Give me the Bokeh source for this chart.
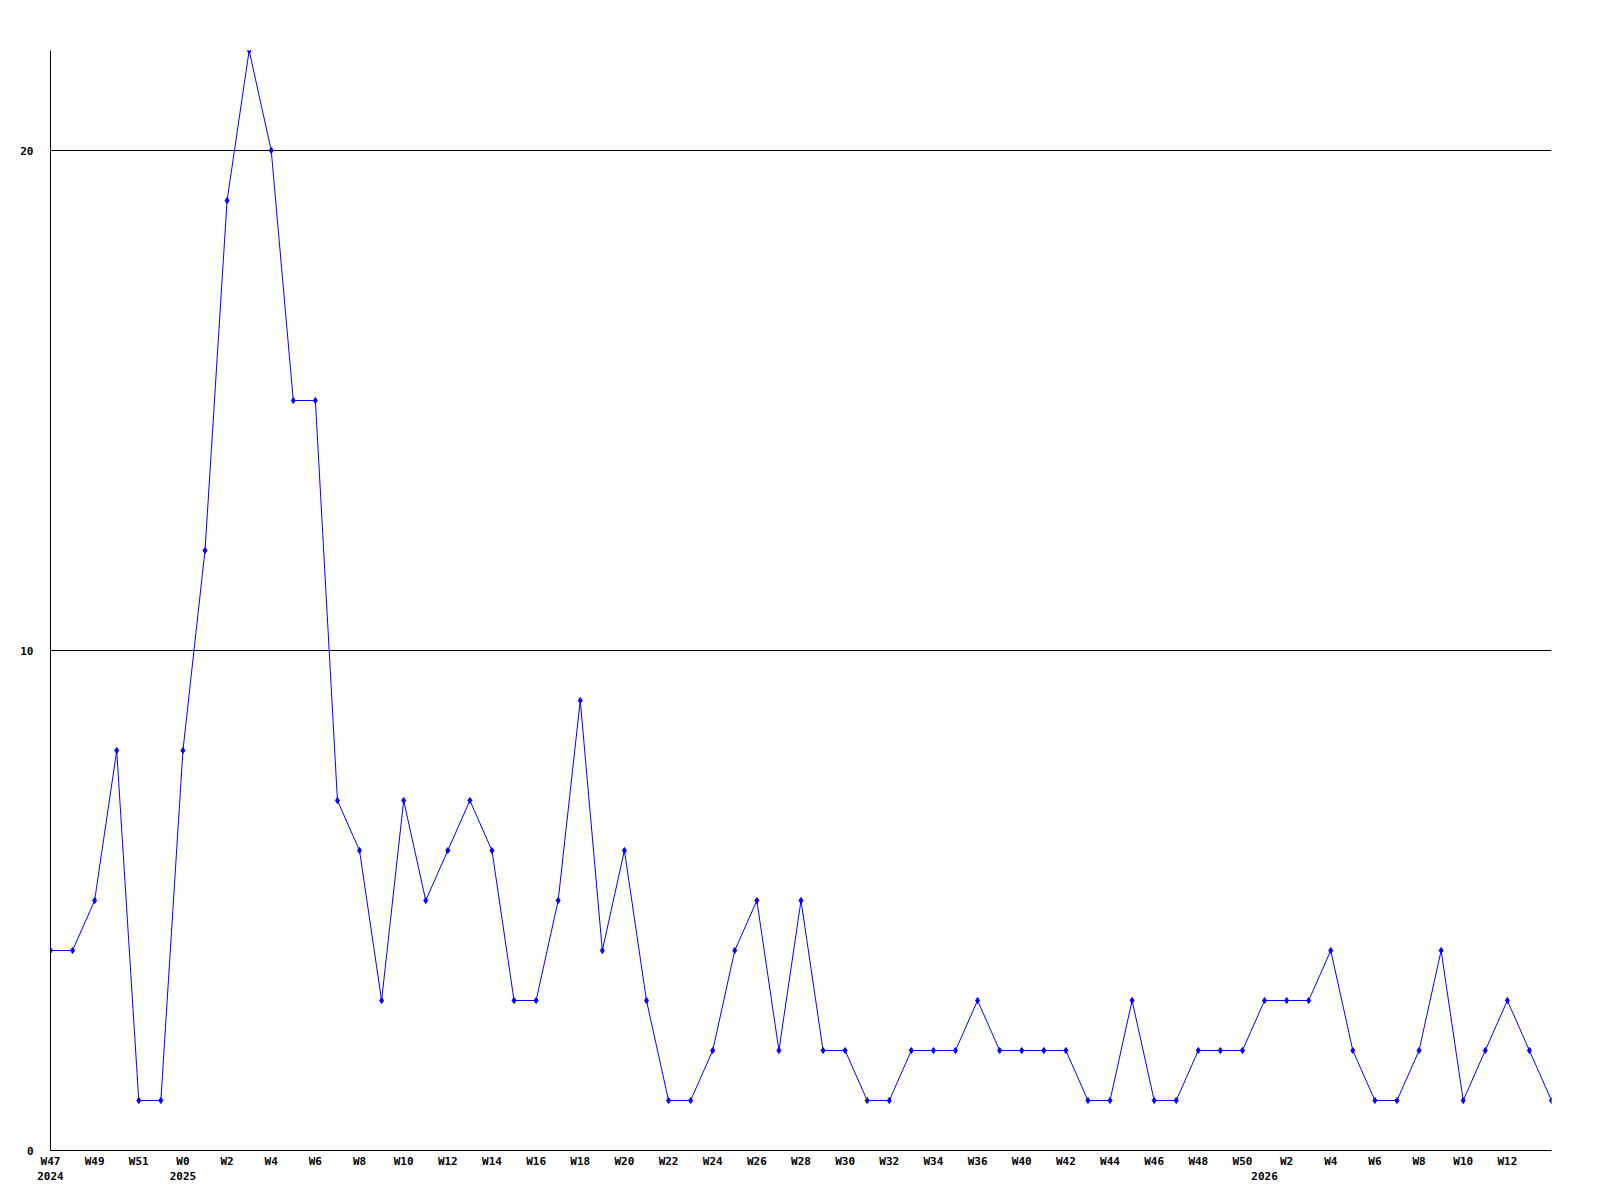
from bokeh.plotting import figure
from bokeh.models import FixedTicker, LinearAxis, Range1d
from bokeh.embed import file_html
from bokeh.resources import INLINE

values = [4, 4, 5, 8, 1, 1, 8, 12, 19, 22, 20, 15, 15, 7, 6, 3, 7, 5, 6, 7,
          6, 3, 3, 5, 9, 4, 6, 3, 1, 1, 2, 4, 5, 2, 5, 2, 2, 1, 1, 2,
          2, 2, 3, 2, 2, 2, 2, 1, 1, 3, 1, 1, 2, 2, 2, 3, 3, 3, 4, 2,
          1, 1, 2, 4, 1, 2, 3, 2, 1]
week_labels = ["W47", "W49", "W51", "W0", "W2", "W4", "W6", "W8", "W10", "W12",
               "W14", "W16", "W18", "W20", "W22", "W24", "W26", "W28", "W30", "W32",
               "W34", "W36", "W40", "W42", "W44", "W46", "W48", "W50", "W2", "W4",
               "W6", "W8", "W10", "W12"]
week_label_idx = list(range(0, 68, 2))
year_labels = ["2024", "2025", "2026"]
year_label_idx = [0, 6, 55]
y_ticks = [0, 10, 20]

xs = list(range(len(values)))
FONT = "DejaVu Sans Mono"

p = figure(width=1584, height=1184, output_backend="svg", toolbar_location=None,
           x_range=Range1d(0, 68), y_range=Range1d(0, 22),
           frame_width=1501, frame_height=1100,
           min_border_left=50, min_border_top=50, min_border_right=20, min_border_bottom=10)
p.outline_line_color = None
p.background_fill_color = "white"
p.border_fill_color = "white"

p.line(xs, values, line_color="#0000ff", line_width=1)
p.scatter(xs, values, marker="diamond", size=6, fill_color="#0000ff", line_color="#0000ff")

# x axis: week labels
xa = p.xaxis[0]
xa.ticker = FixedTicker(ticks=week_label_idx)
xa.major_label_overrides = {i: t for i, t in zip(week_label_idx, week_labels)}
xa.axis_line_color = "black"
xa.axis_line_width = 1
xa.major_tick_line_color = None
xa.minor_tick_line_color = None
xa.major_tick_out = 0
xa.major_tick_in = 0
xa.major_label_standoff = 4
xa.major_label_text_font = FONT
xa.major_label_text_font_style = "bold"
xa.major_label_text_font_size = "11px"
xa.major_label_text_color = "black"

# second axis: year labels
ya2 = LinearAxis(ticker=FixedTicker(ticks=year_label_idx),
                 major_label_overrides={i: t for i, t in zip(year_label_idx, year_labels)})
ya2.axis_line_color = None
ya2.major_tick_line_color = None
ya2.minor_tick_line_color = None
ya2.major_tick_out = 0
ya2.major_tick_in = 0
ya2.major_label_standoff = 1
ya2.major_label_text_font = FONT
ya2.major_label_text_font_style = "bold"
ya2.major_label_text_font_size = "11px"
ya2.major_label_text_color = "black"
p.add_layout(ya2, "below")

# y axis
yax = p.yaxis[0]
yax.ticker = FixedTicker(ticks=y_ticks)
yax.axis_line_color = "black"
yax.major_tick_line_color = None
yax.minor_tick_line_color = None
yax.major_tick_out = 0
yax.major_tick_in = 0
yax.major_label_standoff = 17
yax.major_label_text_font = FONT
yax.major_label_text_font_style = "bold"
yax.major_label_text_font_size = "11px"
yax.major_label_text_color = "black"

p.xgrid.grid_line_color = None
p.ygrid.ticker = FixedTicker(ticks=[10, 20])
p.ygrid.grid_line_color = "black"
p.ygrid.grid_line_width = 1
p.ygrid.grid_line_alpha = 1.0

open("out.html", "w").write(file_html(p, INLINE))
